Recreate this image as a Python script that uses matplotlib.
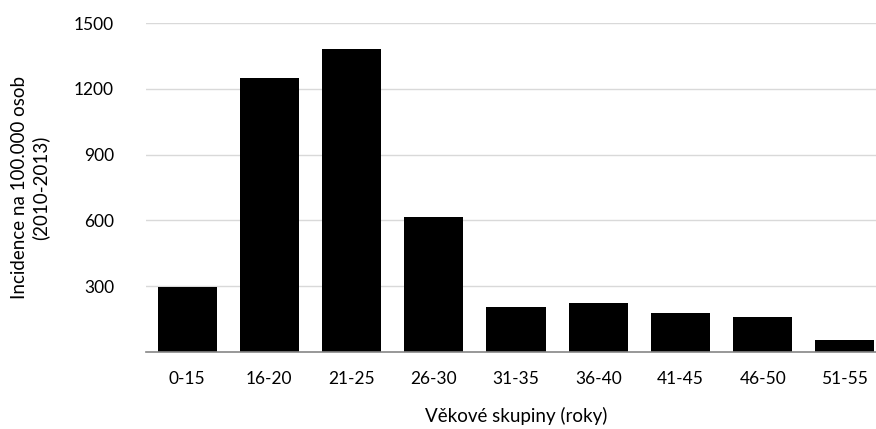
import numpy as np
import matplotlib.pyplot as plt

plt.rcParams['font.family'] = ['Lato', 'DejaVu Sans']

# data
age_groups = ['0-15', '16-20', '21-25', '26-30', '31-35', '36-40', '41-45', '46-50', '51-55']
incidence = [297, 1250, 1380, 614, 204, 222, 176, 158, 53]
y_ticks = [300, 600, 900, 1200, 1500]

fig = plt.figure(figsize=(8.76, 4.29), dpi=100)
# the plot area runs past the right edge, like in the original
ax = fig.add_axes([146 / 876, 77 / 429, 740 / 876, 329 / 429])

x = np.arange(len(age_groups))
ax.bar(x, incidence, width=0.72, color='black', zorder=3)

ax.set_xlim(-0.5, len(age_groups) - 0.5)
ax.set_ylim(0, 1500)
ax.set_xticks(x)
ax.set_xticklabels(age_groups, fontsize=12.5)
ax.set_yticks(y_ticks)
ax.set_yticklabels([str(t) for t in y_ticks], fontsize=12.5)
ax.tick_params(axis='both', length=0)
ax.tick_params(axis='x', pad=14)
ax.tick_params(axis='y', pad=23)

ax.grid(axis='y', color='#d9d9d9', linewidth=1, zorder=0)
for side in ['top', 'right', 'left']:
    ax.spines[side].set_visible(False)
ax.spines['bottom'].set_color('#868686')
ax.spines['bottom'].set_linewidth(1.2)
ax.spines['bottom'].set_zorder(4)

ax.set_xlabel('Věkové skupiny (roky)', fontsize=13.5, labelpad=14)
ax.set_ylabel('Incidence na 100.000 osob\n(2010-2013)', fontsize=13.5, labelpad=18)

fig.savefig('out.png', dpi=100)
